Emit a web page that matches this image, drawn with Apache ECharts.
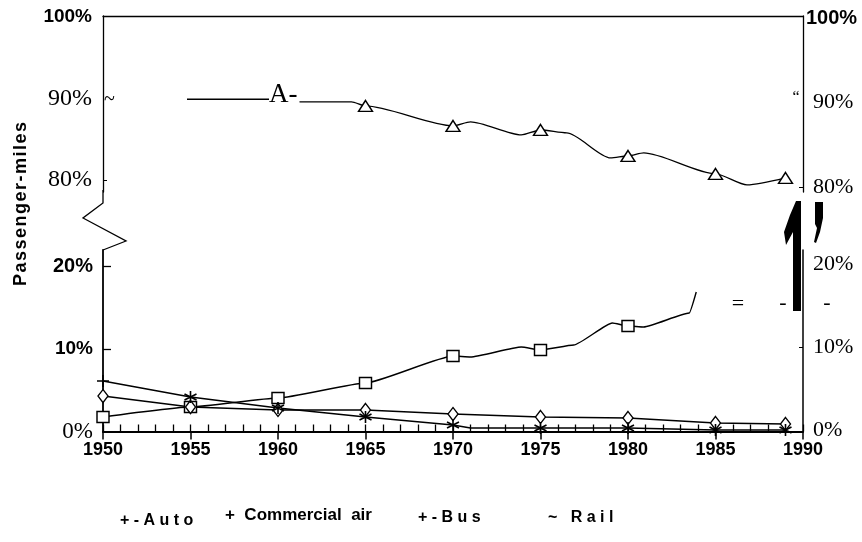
<!DOCTYPE html>
<html lang="en">
<head>
<meta charset="utf-8">
<title>Passenger-miles share</title>
<script src="https://cdn.jsdelivr.net/npm/echarts@6/dist/echarts.min.js"></script>
<style>
  html, body { margin: 0; padding: 0; background: #fff; }
  #main { width: 862px; height: 542px; }
</style>
</head>
<body>
<div id="main"></div>
<script type="text/javascript">
// years that carry a marker on the original
const markerYears = [1950, 1955, 1960, 1965, 1970, 1975, 1980, 1985, 1989];

// Auto (upper panel, 80-100%)
const autoYears = [1954.8, 1959.5, 1961.4, 1964.2, 1965, 1970, 1971, 1973.9, 1975, 1976.5, 1979, 1980, 1980.9, 1985, 1986.8, 1989];
const autoShare = [89.9, 89.9, 89.57, 89.57, 89.08, 86.63, 87.12, 85.52, 86.13, 85.77, 82.7, 82.94, 83.31, 80.74, 79.39, 80.25];

// lower panel, 0-20%
const airYears = [1950, 1955, 1960, 1965, 1970, 1971, 1973.9, 1975, 1976.9, 1979.1, 1980, 1980.9, 1983.5, 1983.9];
const airShare = [1.76, 2.97, 4.06, 5.88, 9.15, 9.03, 10.24, 9.88, 10.48, 13.15, 12.79, 12.67, 14.36, 16.91];

const busYears = [1950, 1955, 1960, 1965, 1970, 1975, 1980, 1985, 1989];
const busShare = [4.3, 2.97, 2.61, 2.61, 2.12, 1.76, 1.64, 1.03, 0.91];

const railYears = [1950, 1955, 1960, 1965, 1970, 1971, 1975, 1980, 1985, 1989];
const railShare = [6.12, 4.18, 2.85, 1.76, 0.79, 0.42, 0.42, 0.42, 0.18, 0.18];

const upperTicks = [80, 90, 100];
const lowerTicks = [0, 10, 20];
const legendNames = ['+ - A u t o', '+  Commercial  air', '+ - B u s', '~   R a i l'];

const SANS = 'Liberation Sans, Arial, sans-serif';
const SERIF = 'Liberation Serif, Times New Roman, serif';

const ASTERISK = 'path://M5,0L5,10M0.7,2.5L9.3,7.5M0.7,7.5L9.3,2.5';
const PLUS = 'path://M5,0L5,10M0,5L10,5';

function toData(xs, ys, first) {
  return xs.map((x, i) => {
    let item = { value: [x, ys[i]] };
    if (markerYears.indexOf(x) < 0) item.symbol = 'none';
    else if (i === 0 && first) item.symbol = first;
    return item;
  });
}

let chart = echarts.init(document.getElementById('main'), null, { renderer: 'canvas' });

const hollow = { color: '#fff', borderColor: '#000', borderWidth: 1.4 };

let option = {
  animation: false,
  backgroundColor: '#fff',
  grid: [
    { left: 103, right: 59, top: 16, height: 176 },
    { left: 103, right: 59, top: 250, height: 181.5 }
  ],
  xAxis: [
    { type: 'value', gridIndex: 0, position: 'top', min: 1950, max: 1990,
      axisLine: { show: true, lineStyle: { color: '#000', width: 1.3 } },
      axisTick: { show: false }, axisLabel: { show: false }, splitLine: { show: false } },
    { type: 'value', gridIndex: 1, position: 'bottom', min: 1950, max: 1990, interval: 5,
      axisLine: { show: true, onZero: false, lineStyle: { color: '#000', width: 2 } },
      axisTick: { show: true, inside: false, length: 8, lineStyle: { color: '#000', width: 1.5 } },
      axisLabel: { margin: 10, color: '#000', fontFamily: SANS, fontWeight: 'bold', fontSize: 18,
        formatter: v => String(v) },
      splitLine: { show: false } },
    { type: 'value', gridIndex: 1, position: 'bottom', min: 1950, max: 1990, interval: 1,
      axisLine: { show: false, onZero: false },
      axisTick: { show: true, inside: true, length: 7, lineStyle: { color: '#000', width: 1.3 } },
      axisLabel: { show: false }, splitLine: { show: false } }
  ],
  yAxis: [
    { type: 'value', gridIndex: 0, position: 'left', min: 78.52, max: 100.12,
      axisLine: { show: true, lineStyle: { color: '#000', width: 1.3 } },
      axisTick: { show: true, inside: true, length: 4, customValues: [80], lineStyle: { color: '#000' } },
      axisLabel: {
        customValues: upperTicks, margin: 11, color: '#000',
        formatter: v => v === 100 ? '{b|' + v + '%}' : '{s|' + v + '%}',
        rich: {
          b: { fontFamily: SANS, fontWeight: 'bold', fontSize: 19, color: '#000' },
          s: { fontFamily: SERIF, fontSize: 24, color: '#000' }
        }
      },
      splitLine: { show: false } },
    { type: 'value', gridIndex: 0, position: 'right', min: 79.41, max: 100.24,
      axisLine: { show: true, lineStyle: { color: '#000', width: 1.3 } },
      axisTick: { show: true, inside: true, length: 4, customValues: [80], lineStyle: { color: '#000' } },
      axisLabel: {
        customValues: upperTicks, margin: 3, color: '#000',
        formatter: v => v === 100 ? '{b|' + v + '%}' : '{s|' + v + '%}',
        rich: {
          b: { fontFamily: SANS, fontWeight: 'bold', fontSize: 20, color: '#000' },
          s: { fontFamily: SERIF, fontSize: 22, color: '#000', padding: [0, 0, 0, 7] }
        }
      },
      splitLine: { show: false } },
    { type: 'value', gridIndex: 1, position: 'left', min: 0, max: 22.0,
      axisLine: { show: true, onZero: false, lineStyle: { color: '#000', width: 1.8 } },
      axisTick: { show: true, inside: true, length: 8, customValues: [10, 20], lineStyle: { color: '#000', width: 1.3 } },
      axisLabel: {
        customValues: lowerTicks, margin: 10, color: '#000',
        formatter: v => v === 0 ? '{s|' + v + '%}' : (v === 20 ? '{c|' + v + '%}' : '{b|' + v + '%}'),
        rich: {
          b: { fontFamily: SANS, fontWeight: 'bold', fontSize: 19, color: '#000' },
          c: { fontFamily: SANS, fontWeight: 'bold', fontSize: 20, color: '#000' },
          s: { fontFamily: SERIF, fontSize: 23, color: '#000' }
        }
      },
      splitLine: { show: false } },
    { type: 'value', gridIndex: 1, position: 'right', min: -0.18, max: 21.69,
      axisLine: { show: true, onZero: false, lineStyle: { color: '#000', width: 1.5 } },
      axisTick: { show: true, inside: true, length: 4, customValues: [10], lineStyle: { color: '#000' } },
      axisLabel: {
        customValues: lowerTicks, margin: 10, color: '#000',
        formatter: v => '{s|' + v + '%}',
        rich: { s: { fontFamily: SERIF, fontSize: 22, color: '#000' } }
      },
      splitLine: { show: false } }
  ],
  series: [
    { name: 'Auto', type: 'line', xAxisIndex: 0, yAxisIndex: 0,
      data: toData(autoYears, autoShare), smooth: 0.25, smoothMonotone: 'x',
      symbol: 'triangle', symbolSize: [14, 11],
      itemStyle: hollow, lineStyle: { color: '#000', width: 1.3 } },
    { name: 'Commercial air', type: 'line', xAxisIndex: 1, yAxisIndex: 2,
      data: toData(airYears, airShare), smooth: 0.15, smoothMonotone: 'x',
      symbol: 'rect', symbolSize: [12, 11],
      itemStyle: hollow, lineStyle: { color: '#000', width: 1.4 } },
    { name: 'Bus', type: 'line', xAxisIndex: 1, yAxisIndex: 2,
      data: toData(busYears, busShare),
      symbol: 'diamond', symbolSize: [10, 13],
      itemStyle: hollow, lineStyle: { color: '#000', width: 1.6 } },
    { name: 'Rail', type: 'line', xAxisIndex: 1, yAxisIndex: 2,
      data: toData(railYears, railShare, PLUS),
      symbol: ASTERISK, symbolSize: 12,
      itemStyle: { color: '#000', borderColor: '#000', borderWidth: 1.6 },
      lineStyle: { color: '#000', width: 1.6 } }
  ],
  graphic: [
    // axis break on the left
    { type: 'polyline', z: 100, shape: { points: [[103, 190], [103, 203], [83, 218], [126, 241], [103, 250]] },
      style: { stroke: '#000', lineWidth: 1.3, fill: null } },
    // y title
    { type: 'text', z: 100, x: 21, y: 204, rotation: Math.PI / 2,
      style: { text: 'P\u200aa\u200as\u200as\u200ae\u200an\u200ag\u200ae\u200ar\u200a-\u200am\u200ai\u200al\u200ae\u200as',
        font: 'bold 18px ' + SANS, fill: '#000', align: 'center', verticalAlign: 'middle' } },
    // scan artefacts
    { type: 'text', z: 100, x: 104, y: 100,
      style: { text: '~', font: '20px ' + SERIF, fill: '#000', align: 'left', verticalAlign: 'middle' } },
    { type: 'text', z: 100, x: 269, y: 95,
      style: { text: 'A-', font: '27px ' + SERIF, fill: '#000', align: 'left', verticalAlign: 'middle',
        backgroundColor: '#fff', padding: [0, 2, 0, 0] } },
    { type: 'text', z: 100, x: 796, y: 98,
      style: { text: '\u201c', font: '16px ' + SERIF, fill: '#000', align: 'center', verticalAlign: 'middle' } },
    { type: 'text', z: 100, x: 738, y: 304,
      style: { text: '=', font: '22px ' + SERIF, fill: '#000', align: 'center', verticalAlign: 'middle' } },
    { type: 'text', z: 100, x: 783, y: 303,
      style: { text: '-', font: '22px ' + SERIF, fill: '#000', align: 'center', verticalAlign: 'middle' } },
    { type: 'text', z: 100, x: 827, y: 303,
      style: { text: '-', font: '22px ' + SERIF, fill: '#000', align: 'center', verticalAlign: 'middle' } },
    { type: 'polygon', z: 100, shape: { points: [[801, 201], [801, 311], [793, 311], [793, 232], [786, 245], [784, 232], [790, 215], [796, 201]] },
      style: { fill: '#000' } },
    { type: 'polygon', z: 100, shape: { points: [[815, 202], [823, 202], [823, 218], [820, 232], [816, 243], [814, 242], [817, 228], [815, 224]] },
      style: { fill: '#000' } },
    // legend
    { type: 'text', z: 100, x: 120, y: 521,
      style: { text: legendNames[0], font: 'bold 16px ' + SANS, fill: '#000', align: 'left', verticalAlign: 'middle' } },
    { type: 'text', z: 100, x: 225, y: 515,
      style: { text: legendNames[1], font: 'bold 17px ' + SANS, fill: '#000', align: 'left', verticalAlign: 'middle' } },
    { type: 'text', z: 100, x: 418, y: 518,
      style: { text: legendNames[2], font: 'bold 16px ' + SANS, fill: '#000', align: 'left', verticalAlign: 'middle' } },
    { type: 'text', z: 100, x: 548, y: 518,
      style: { text: legendNames[3], font: 'bold 16px ' + SANS, fill: '#000', align: 'left', verticalAlign: 'middle' } }
  ]
};

chart.setOption(option);
</script>
</body>
</html>
